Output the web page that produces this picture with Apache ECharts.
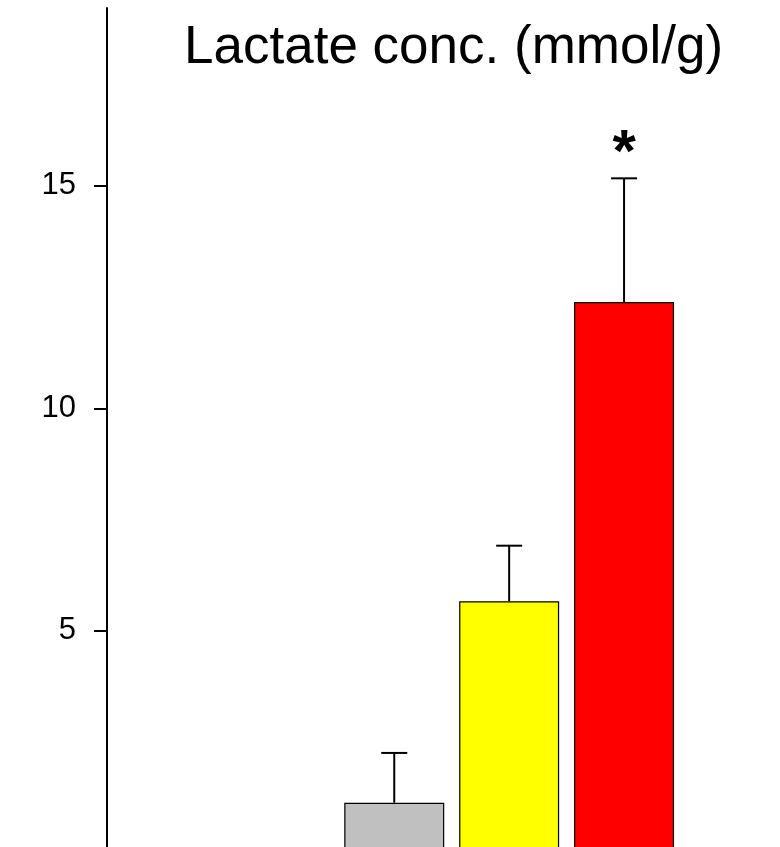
<!DOCTYPE html>
<html>
<head>
<meta charset="utf-8">
<script src="https://cdn.jsdelivr.net/npm/echarts@6/dist/echarts.min.js"></script>
<style>
  html, body { margin: 0; padding: 0; background: #fff; overflow: hidden; }
  #chart { width: 780px; height: 900px; }
</style>
</head>
<body>
<div id="chart"></div>
<script>
// Groups along the x axis (first two carry no visible bar)
const categories = ['G1', 'G2', 'G3', 'G4', 'G5'];
// Mean lactate concentration per group (mmol/g)
const means = [null, null, 1.13, 5.66, 12.39];
// Upper end of the error bar (mean + SD)
const upper = [null, null, 2.25, 6.91, 15.17];
// Fill colour per group
const colors = ['#c0c0c0', '#c0c0c0', '#c0c0c0', '#ffff00', '#ff0000'];
// Significance marks per group
const marks = ['', '', '', '', '*'];
// Y axis tick values and labelled values
const yTicks = [0, 5, 10, 15];
const yLabels = [5, 10, 15];
const titleText = 'Lactate conc. (mmol/g)';

const chart = echarts.init(document.getElementById('chart'), null, { renderer: 'canvas' });

const barData = means.map((v, i) => ({
  value: v,
  itemStyle: { color: colors[i] }
}));

const errData = categories.map((c, i) => [i, means[i], upper[i], marks[i]]);

const option = {
  backgroundColor: '#ffffff',
  animation: false,
  title: {
    text: titleText,
    left: 184,
    top: 22,
    padding: 0,
    textStyle: {
      fontFamily: 'Liberation Sans, Arial, sans-serif',
      fontSize: 53,
      fontWeight: 'normal',
      color: '#000'
    }
  },
  grid: { left: 107, right: 98.5, top: 8, bottom: 47, containLabel: false },
  xAxis: {
    type: 'category',
    data: categories,
    axisLine: { show: false },
    axisTick: { show: false },
    axisLabel: { show: false },
    splitLine: { show: false }
  },
  yAxis: {
    type: 'value',
    min: 0,
    max: 19,
    interval: 5,
    axisLine: { show: true, lineStyle: { color: '#000', width: 2 } },
    axisTick: {
      show: true,
      inside: false,
      length: 13,
      customValues: yTicks,
      lineStyle: { color: '#000', width: 2 }
    },
    axisLabel: {
      show: true,
      customValues: yLabels,
      margin: 31,
      padding: [6, 0, 0, 0],
      fontFamily: 'Liberation Sans, Arial, sans-serif',
      fontSize: 31,
      color: '#000'
    },
    splitLine: { show: false }
  },
  series: [
    {
      type: 'bar',
      data: barData,
      barWidth: 100,
      itemStyle: { borderColor: '#000', borderWidth: 1.2 },
      z: 2
    },
    {
      type: 'custom',
      data: errData,
      z: 3,
      encode: { x: 0, y: [1, 2] },
      renderItem: function (params, api) {
        const i = api.value(0);
        const m = api.value(1);
        const u = api.value(2);
        if (m == null || isNaN(m) || u == null || isNaN(u)) return;
        const base = api.coord([i, m]);
        const top = api.coord([i, u]);
        const half = 13;
        const children = [
          { type: 'line', shape: { x1: top[0], y1: base[1], x2: top[0], y2: top[1] },
            style: { stroke: '#000', lineWidth: 2 } },
          { type: 'line', shape: { x1: top[0] - half, y1: top[1], x2: top[0] + half, y2: top[1] },
            style: { stroke: '#000', lineWidth: 2 } }
        ];
        const mark = marks[params.dataIndex];
        if (mark) {
          children.push({
            type: 'text',
            style: {
              text: mark,
              x: top[0],
              y: top[1] + 6,
              align: 'center',
              verticalAlign: 'bottom',
              fontFamily: 'Liberation Sans, Arial, sans-serif',
              fontWeight: 'bold',
              fontSize: 60,
              fill: '#000'
            }
          });
        }
        return { type: 'group', children: children };
      }
    }
  ]
};

chart.setOption(option);
</script>
</body>
</html>
